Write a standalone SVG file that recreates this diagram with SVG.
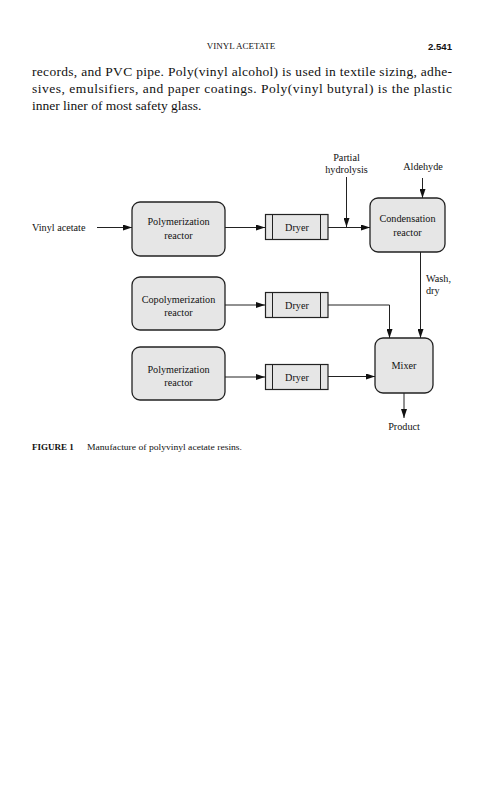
<svg xmlns="http://www.w3.org/2000/svg" width="481" height="800" viewBox="0 0 481 800">
<style>
.serif{font-family:"Liberation Serif","Times New Roman",serif;fill:#111}
.lbl{font-size:10.2px}
.mid{text-anchor:middle}
.box{fill:#e6e6e6;stroke:#222;stroke-width:1.3}
.dry{fill:#e6e6e6;stroke:#222;stroke-width:1.2}
.con{fill:none;stroke:#222;stroke-width:1}
</style>
<defs>
<marker id="ah" markerWidth="9" markerHeight="6" refX="9" refY="3" orient="auto" markerUnits="userSpaceOnUse">
<path d="M0,0 L9,3 L0,6 Z" fill="#111"/>
</marker>
</defs>
<rect width="481" height="800" fill="#fff"/>
<g id="header">
<text class="serif mid" x="241" y="49" font-size="9">VINYL ACETATE</text>
<text x="452" y="49.5" font-family="Liberation Sans, Arial, sans-serif" font-weight="bold" font-size="9.6" text-anchor="end" fill="#111">2.541</text>
</g>
<g id="body" class="serif" font-size="13.5">
<text x="32" y="76" textLength="420" lengthAdjust="spacing">records, and PVC pipe. Poly(vinyl alcohol) is used in textile sizing, adhe-</text>
<text x="32" y="93" textLength="420" lengthAdjust="spacing">sives, emulsifiers, and paper coatings. Poly(vinyl butyral) is the plastic</text>
<text x="32" y="110">inner liner of most safety glass.</text>
</g>
<g id="connectors" class="con">
<line x1="97" y1="227.5" x2="132" y2="227.5" marker-end="url(#ah)"/>
<line x1="225" y1="227.5" x2="265" y2="227.5" marker-end="url(#ah)"/>
<line x1="328" y1="227.5" x2="370" y2="227.5" marker-end="url(#ah)"/>
<line x1="346.5" y1="177" x2="346.5" y2="227" marker-end="url(#ah)"/>
<line x1="422.5" y1="178" x2="422.5" y2="198" marker-end="url(#ah)"/>
<line x1="420.5" y1="252" x2="420.5" y2="338" marker-end="url(#ah)"/>
<line x1="225" y1="305" x2="265" y2="305" marker-end="url(#ah)"/>
<polyline points="328,305 389.5,305 389.5,338" marker-end="url(#ah)"/>
<line x1="225" y1="377" x2="265" y2="377" marker-end="url(#ah)"/>
<line x1="328" y1="376.5" x2="375" y2="376.5" marker-end="url(#ah)"/>
<line x1="404" y1="393" x2="404" y2="418" marker-end="url(#ah)"/>
</g>
<g id="vinyl-acetate"><text class="serif lbl" x="32" y="230.5">Vinyl acetate</text></g>
<g id="partial-hydrolysis">
<text class="serif lbl mid" x="346.5" y="161">Partial</text>
<text class="serif lbl mid" x="346.5" y="173">hydrolysis</text>
</g>
<g id="aldehyde"><text class="serif lbl mid" x="423" y="170">Aldehyde</text></g>
<g id="poly-reactor-1">
<rect class="box" x="132" y="202" width="93" height="54" rx="8"/>
<text class="serif lbl mid" x="178.5" y="225">Polymerization</text>
<text class="serif lbl mid" x="178.5" y="239">reactor</text>
</g>
<g id="dryer-1">
<rect class="dry" x="265.5" y="214.5" width="62.5" height="25"/>
<line class="con" x1="272.5" y1="214.5" x2="272.5" y2="239.5"/>
<line class="con" x1="320.5" y1="214.5" x2="320.5" y2="239.5"/>
<text class="serif lbl mid" x="297" y="231">Dryer</text>
</g>
<g id="condensation-reactor">
<rect class="box" x="370" y="198" width="75" height="54" rx="8"/>
<text class="serif lbl mid" x="407.5" y="222">Condensation</text>
<text class="serif lbl mid" x="407.5" y="235.5">reactor</text>
</g>
<g id="wash-dry">
<text class="serif lbl" x="426" y="282">Wash,</text>
<text class="serif lbl" x="426" y="294">dry</text>
</g>
<g id="copoly-reactor">
<rect class="box" x="132" y="277" width="93" height="53" rx="8"/>
<text class="serif lbl mid" x="178.5" y="302.5">Copolymerization</text>
<text class="serif lbl mid" x="178.5" y="315.5">reactor</text>
</g>
<g id="dryer-2">
<rect class="dry" x="265.5" y="292.5" width="62.5" height="25"/>
<line class="con" x1="272.5" y1="292.5" x2="272.5" y2="317.5"/>
<line class="con" x1="320.5" y1="292.5" x2="320.5" y2="317.5"/>
<text class="serif lbl mid" x="297" y="309">Dryer</text>
</g>
<g id="poly-reactor-2">
<rect class="box" x="132" y="347" width="93" height="53" rx="8"/>
<text class="serif lbl mid" x="178.5" y="372.5">Polymerization</text>
<text class="serif lbl mid" x="178.5" y="385.5">reactor</text>
</g>
<g id="dryer-3">
<rect class="dry" x="265.5" y="364.5" width="62.5" height="25"/>
<line class="con" x1="272.5" y1="364.5" x2="272.5" y2="389.5"/>
<line class="con" x1="320.5" y1="364.5" x2="320.5" y2="389.5"/>
<text class="serif lbl mid" x="297" y="381">Dryer</text>
</g>
<g id="mixer">
<rect class="box" x="375" y="338" width="58" height="55" rx="8"/>
<text class="serif lbl mid" x="404" y="368.5">Mixer</text>
</g>
<g id="product"><text class="serif lbl mid" x="404" y="429.5">Product</text></g>
<g id="caption" class="serif" font-size="9">
<text x="32" y="450" font-weight="bold">FIGURE 1</text>
<text x="87" y="450" textLength="155" lengthAdjust="spacingAndGlyphs">Manufacture of polyvinyl acetate resins.</text>
</g>
</svg>
